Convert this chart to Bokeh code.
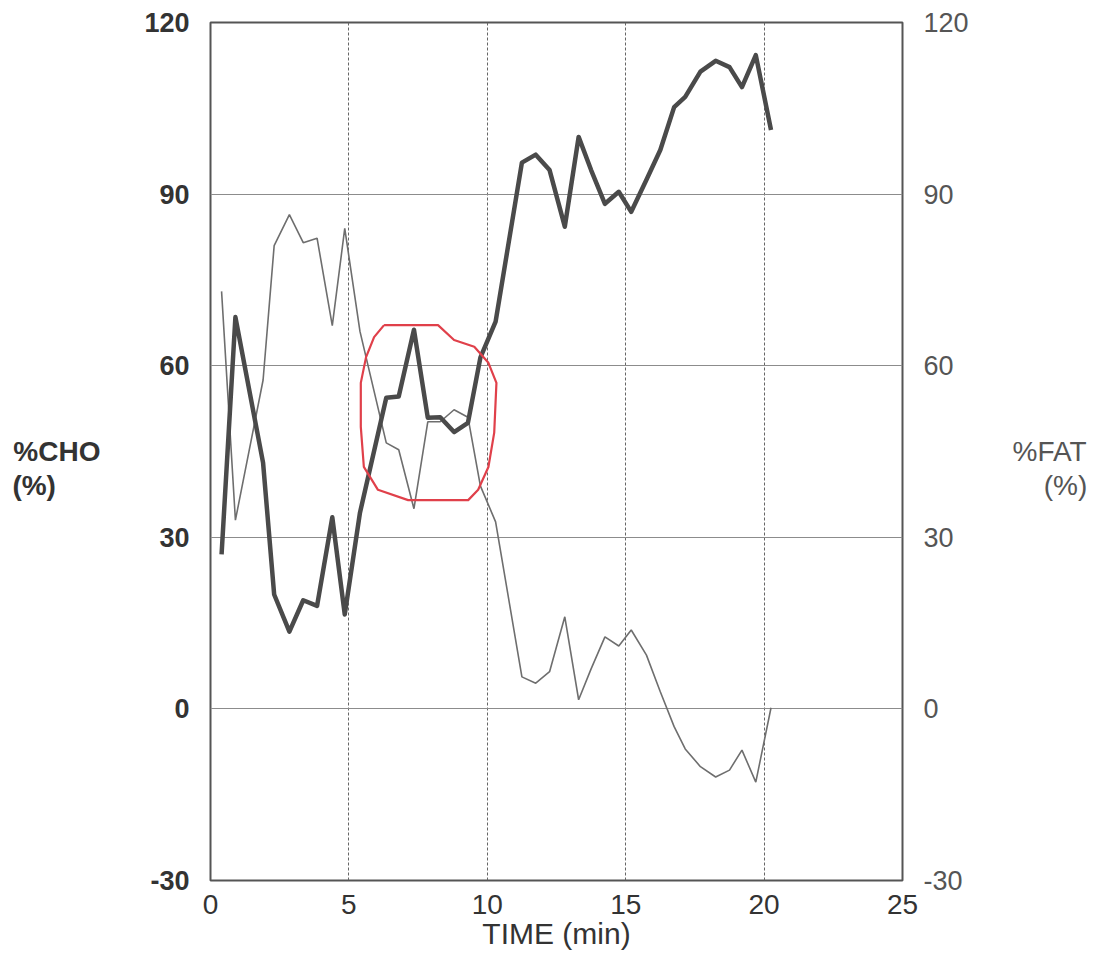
from bokeh.plotting import figure
from bokeh.models import LinearAxis, FixedTicker, ColumnDataSource
from bokeh.embed import file_html
from bokeh.resources import INLINE

# ---- data ----
time_min = [0.4, 0.9, 1.9, 2.3, 2.85, 3.35, 3.85, 4.4, 4.85, 5.4,
            6.35, 6.8, 7.35, 7.85, 8.3, 8.8, 9.3, 9.75, 10.3,
            11.25, 11.75, 12.25, 12.8, 13.3, 13.75, 14.25, 14.75, 15.2, 15.75,
            16.25, 16.75, 17.15, 17.7, 18.25, 18.75, 19.2, 19.7, 20.25]
cho_pct = [27, 68.5, 43, 20, 13.5, 19, 18, 33.5, 16.5, 34.3,
           54.4, 54.6, 66.3, 50.9, 51, 48.4, 50, 61.4, 67.7,
           95.5, 96.9, 94.2, 84.3, 100, 94.2, 88.3, 90.4, 86.9, 92.5,
           97.7, 105.2, 107, 111.4, 113.3, 112.2, 108.7, 114.3, 101.2]
fat_pct = [73, 33, 57.5, 81, 86.4, 81.5, 82.3, 67, 84, 66,
           46.5, 45.3, 35, 50.2, 50.2, 52.3, 51, 39, 32.7,
           5.6, 4.5, 6.5, 16.1, 1.6, 7, 12.6, 11, 13.8, 9.4,
           3, -3.1, -7, -10.1, -11.9, -10.7, -7.2, -12.8, 0.2]

x_ticks = [0, 5, 10, 15, 20, 25]
y_ticks = [-30, 0, 30, 60, 90, 120]
y_tick_labels = {-30: "-30", 0: "0", 30: "30", 60: "60", 90: "90", 120: "120"}

# hand-drawn red annotation loop (data units)
loop_x = [6.27, 8.22, 8.80, 9.53, 10.04, 10.33, 10.25, 10.04, 9.67, 9.31,
          7.14, 6.05, 5.54, 5.43, 5.43, 5.62, 5.91, 6.27]
loop_y = [67.1, 67.1, 64.5, 63.3, 60.5, 57.0, 48.3, 42.3, 38.3, 36.5,
          36.5, 38.3, 42.3, 49.3, 57.0, 61.5, 65.0, 67.1]

FONT = "Liberation Sans"
NB = "\u00a0"

p = figure(frame_width=692, frame_height=858,
           min_border_left=210, min_border_right=192,
           min_border_top=22, min_border_bottom=70,
           x_range=(0, 25), y_range=(-30, 120),
           output_backend="svg", toolbar_location=None)
p.background_fill_color = "white"
p.border_fill_color = "white"
p.outline_line_color = "#555555"
p.outline_line_width = 2

# grid
p.ygrid.ticker = FixedTicker(ticks=[0, 30, 60, 90])
p.ygrid.grid_line_color = "#8c8c8c"
p.ygrid.grid_line_width = 1.2
p.xgrid.ticker = FixedTicker(ticks=[5, 10, 15, 20])
p.xgrid.grid_line_color = "#666666"
p.xgrid.grid_line_width = 1
p.xgrid.grid_line_dash = "3 2"

# x axis
xa = p.xaxis[0]
xa.ticker = FixedTicker(ticks=x_ticks)
xa.axis_line_color = None
xa.major_tick_line_color = None
xa.minor_tick_line_color = None
xa.major_label_text_font = FONT
xa.major_label_text_font_size = "28px"
xa.major_label_text_color = "#333333"
xa.major_label_standoff = 8
xa.axis_label = "TIME (min)"
xa.axis_label_text_font = FONT
xa.axis_label_text_font_style = "normal"
xa.axis_label_text_font_size = "30px"
xa.axis_label_text_color = "#333333"
xa.axis_label_standoff = 0

# left axis
ya = p.yaxis[0]
ya.ticker = FixedTicker(ticks=y_ticks)
ya.major_label_overrides = y_tick_labels
ya.axis_line_color = None
ya.major_tick_line_color = None
ya.minor_tick_line_color = None
ya.major_label_text_font = FONT
ya.major_label_text_font_style = "bold"
ya.major_label_text_font_size = "27px"
ya.major_label_text_color = "#333333"
ya.major_label_standoff = 15
ya.axis_label = "\n%CHO\n(%)" + NB * 5 + "\u2009"
ya.axis_label_orientation = "horizontal"
ya.axis_label_text_font = FONT
ya.axis_label_text_font_style = "bold"
ya.axis_label_text_font_size = "28px"
ya.axis_label_text_line_height = 1.1
ya.axis_label_text_color = "#333333"
ya.axis_label_standoff = 41

# right axis
ra = LinearAxis(ticker=FixedTicker(ticks=y_ticks))
ra.major_label_overrides = y_tick_labels
ra.axis_line_color = None
ra.major_tick_line_color = None
ra.minor_tick_line_color = None
ra.major_label_text_font = FONT
ra.major_label_text_font_size = "27px"
ra.major_label_text_color = "#555555"
ra.major_label_standoff = 15
ra.axis_label = "\n%FAT\n" + NB * 4 + "(%)"
ra.axis_label_orientation = "horizontal"
ra.axis_label_text_font = FONT
ra.axis_label_text_font_style = "normal"
ra.axis_label_text_font_size = "28px"
ra.axis_label_text_line_height = 1.1
ra.axis_label_text_color = "#555555"
ra.axis_label_standoff = 41
p.add_layout(ra, "right")

src = ColumnDataSource(dict(t=time_min, cho=cho_pct, fat=fat_pct))
p.line("t", "fat", source=src, line_color="#6e6e6e", line_width=1.6)
p.line("t", "cho", source=src, line_color="#4a4a4a", line_width=4.5, line_join="round")

p.line(loop_x, loop_y, line_color="#e0404a", line_width=2.2, line_join="round")

open("out.html", "w").write(file_html(p, INLINE))
